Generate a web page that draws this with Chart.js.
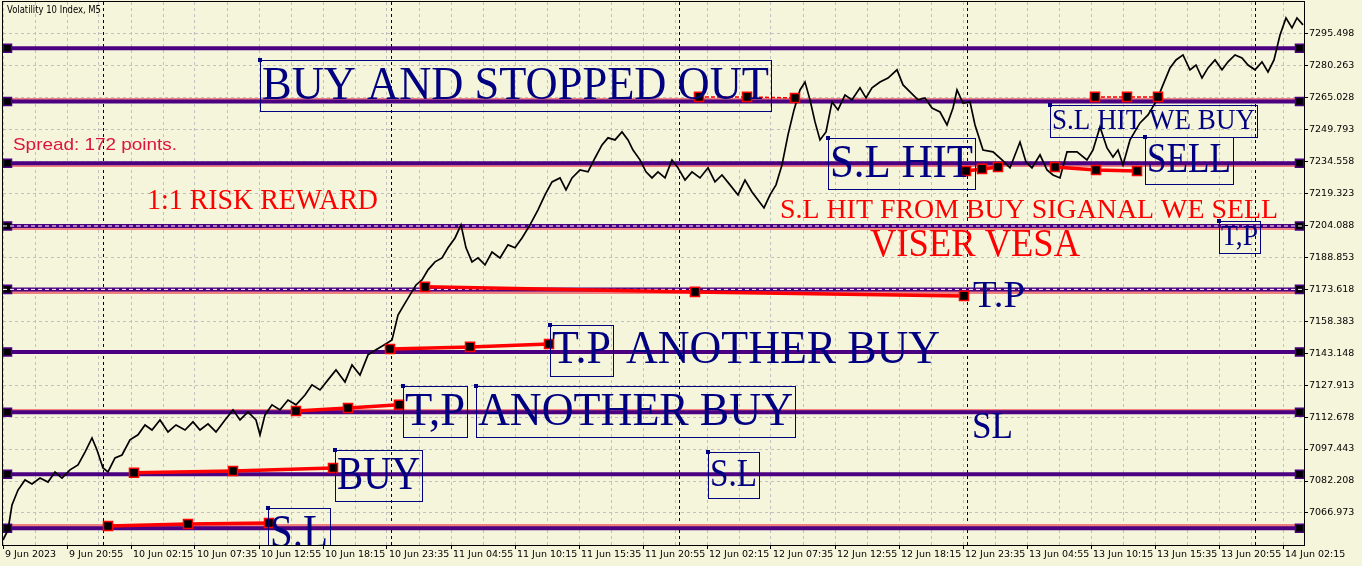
<!DOCTYPE html>
<html>
<head>
<meta charset="utf-8">
<script src="https://cdn.jsdelivr.net/npm/chart.js@4.4.0/dist/chart.umd.min.js"></script>
<style>
  html, body { margin: 0; padding: 0; background: #f5f5dc; }
  #wrap { width: 1362px; height: 566px; }
</style>
</head>
<body>
<div id="wrap"><canvas id="chart" width="1362" height="566"></canvas></div>
<script>
// Volatility 10 Index, M5 -- one x unit is one 5 minute bar
const xLabels = [
  "9 Jun 2023", "9 Jun 20:55", "10 Jun 02:15", "10 Jun 07:35", "10 Jun 12:55",
  "10 Jun 18:15", "10 Jun 23:35", "11 Jun 04:55", "11 Jun 10:15", "11 Jun 15:35",
  "11 Jun 20:55", "12 Jun 02:15", "12 Jun 07:35", "12 Jun 12:55", "12 Jun 18:15",
  "12 Jun 23:35", "13 Jun 04:55", "13 Jun 10:15", "13 Jun 15:35", "13 Jun 20:55",
  "14 Jun 02:15"
];
const yTicks = [
  7066.973, 7082.208, 7097.443, 7112.678, 7127.913, 7143.148, 7158.383, 7173.618,
  7188.853, 7204.088, 7219.323, 7234.558, 7249.793, 7265.028, 7280.263, 7295.498
];
const dayBreaks = [100, 388, 676, 964, 1252];

const priceBars = [
  0, 5, 9, 15, 22, 29, 37, 45, 52, 59, 67, 75, 82, 89, 94, 100, 105, 112, 119, 127,
  135, 142, 149, 157, 165, 173, 182, 190, 197, 205, 213, 222, 230, 237, 245, 253, 257, 262, 269, 277,
  285, 293, 302, 309, 317, 325, 333, 342, 349, 357, 365, 373, 381, 389, 395, 401, 407, 413, 419, 425,
  432, 439, 445, 452, 458, 463, 469, 475, 482, 489, 497, 505, 512, 519, 527, 535, 542, 549, 557, 563,
  569, 577, 585, 592, 599, 605, 612, 619, 625, 630, 637, 643, 649, 655, 662, 669, 675, 682, 689, 697,
  705, 712, 719, 727, 735, 742, 749, 755, 761, 767, 773, 779, 785, 791, 797, 802, 807, 812, 817, 823,
  829, 835, 842, 849, 857, 863, 869, 877, 885, 894, 900, 907, 915, 922, 929, 937, 944, 950, 954, 960,
  967, 972, 980, 990, 999, 1007, 1017, 1023, 1029, 1037, 1044, 1050, 1057, 1064, 1074, 1084, 1090, 1097, 1104, 1110,
  1115, 1120, 1127, 1137, 1145, 1154, 1160, 1167, 1173, 1180, 1187, 1193, 1199, 1205, 1212, 1219, 1225, 1232, 1239, 1245,
  1252, 1259, 1265, 1271, 1277, 1283, 1289, 1294, 1300
];
const priceClose = [
  7054.1, 7058.9, 7070.8, 7077.9, 7082.7, 7080.8, 7083.6, 7081.7, 7086.5, 7083.6, 7087.5, 7089.9, 7096.0, 7102.7, 7097.0, 7088.4, 7086.5, 7093.2, 7094.6, 7101.8,
  7104.2, 7108.9, 7106.5, 7111.3, 7105.6, 7108.9, 7106.5, 7110.4, 7106.5, 7109.4, 7105.6, 7111.3, 7116.1, 7111.3, 7115.1, 7111.3, 7104.2, 7113.7, 7118.5, 7116.1,
  7120.8, 7118.5, 7123.2, 7128.0, 7125.6, 7130.4, 7135.1, 7129.4, 7137.5, 7132.7, 7142.3, 7144.7, 7147.0, 7149.4, 7161.3, 7166.1, 7170.9, 7175.6, 7178.0, 7182.8,
  7186.6, 7188.5, 7193.3, 7198.0, 7204.2, 7193.3, 7186.6, 7188.5, 7185.2, 7191.3, 7188.5, 7194.7, 7193.3, 7198.0, 7204.2, 7211.4, 7218.5, 7224.7, 7226.6, 7220.9,
  7226.6, 7230.4, 7229.5, 7236.1, 7242.3, 7245.7, 7244.7, 7248.5, 7244.7, 7239.9, 7235.2, 7229.5, 7226.6, 7229.5, 7226.6, 7235.2, 7231.4, 7225.6, 7229.5, 7226.6,
  7231.4, 7224.7, 7228.0, 7223.3, 7218.5, 7225.6, 7219.9, 7216.1, 7212.3, 7218.5, 7223.3, 7232.8, 7247.1, 7259.0, 7268.5, 7272.3, 7263.8, 7253.3, 7244.7, 7248.5,
  7262.8, 7259.0, 7266.1, 7263.8, 7269.5, 7264.7, 7269.5, 7272.3, 7274.2, 7278.1, 7270.9, 7267.6, 7263.8, 7264.7, 7259.9, 7258.0, 7251.8, 7259.9, 7268.5, 7262.3,
  7262.8, 7251.8, 7239.9, 7239.0, 7235.2, 7231.4, 7243.7, 7234.2, 7231.4, 7237.6, 7230.4, 7228.0, 7226.6, 7239.0, 7239.0, 7235.2, 7239.9, 7250.9, 7240.9, 7236.6,
  7239.9, 7232.8, 7244.7, 7252.8, 7256.6, 7263.8, 7270.9, 7279.0, 7282.8, 7285.2, 7278.1, 7280.4, 7274.2, 7279.0, 7282.8, 7278.1, 7281.9, 7285.2, 7283.8, 7280.4,
  7278.1, 7281.9, 7277.1, 7282.8, 7294.7, 7302.8, 7298.1, 7302.8, 7299.5
];

// horizontal levels drawn on the chart
const levels = [7288.4, 7263.0, 7233.6, 7203.7, 7173.5, 7143.7, 7115.0, 7085.4, 7059.7];
const levelShadows = [7264.0, 7232.5, 7202.5, 7172.0, 7115.8, 7061.0];
const dottedLevels = [7203.7, 7173.5];

// trade lines: bars and prices of the three points of each
const tradeBars = [
  [105, 185, 266], [131, 230, 330], [293, 345, 396], [387, 467, 546], [422, 692, 961],
  [696, 744, 792], [963, 979, 995], [1052, 1093, 1134], [1092, 1124, 1155]
];
const tradePrices = [
  [7060.8, 7061.7, 7062.2], [7086.1, 7087.0, 7088.4], [7115.6, 7117.0, 7118.5],
  [7145.1, 7146.1, 7147.5], [7174.7, 7172.3, 7170.4], [7265.2, 7265.2, 7264.7],
  [7229.9, 7230.9, 7231.8], [7231.8, 7230.4, 7229.9], [7265.2, 7265.2, 7265.2]
];
const tradeDashed = [false, false, false, false, false, true, false, false, true];

const NAVY = "#000080";
const RED = "#ff0000";
const notes = [
  { text: "BUY AND STOPPED OUT", bar: 259, price: 7282.8, size: 46, width: 507, color: NAVY, box: true },
  { text: "S.L HIT", bar: 827, price: 7245.6, size: 46, width: 143, color: NAVY, box: true },
  { text: "S.L HIT WE BUY", bar: 1049, price: 7261.4, size: 29, width: 203, color: NAVY, box: true },
  { text: "SELL", bar: 1144, price: 7246.1, size: 42, width: 84, color: NAVY, box: true },
  { text: "T,P", bar: 1218, price: 7206.1, size: 29, width: 37, color: NAVY, box: true },
  { text: "T.P", bar: 970, price: 7180.4, size: 38, width: 52, color: NAVY, box: false },
  { text: "T.P", bar: 549, price: 7156.6, size: 46, width: 59, color: NAVY, box: true },
  { text: "ANOTHER BUY", bar: 623, price: 7156.6, size: 46, width: 314, color: NAVY, box: false },
  { text: "T,P", bar: 402, price: 7127.5, size: 46, width: 60, color: NAVY, box: true },
  { text: "ANOTHER BUY", bar: 475, price: 7127.5, size: 46, width: 315, color: NAVY, box: true },
  { text: "BUY", bar: 334, price: 7097.0, size: 46, width: 83, color: NAVY, box: true },
  { text: "S.L", bar: 267, price: 7069.4, size: 46, width: 58, color: NAVY, box: true },
  { text: "S.L", bar: 707, price: 7096.1, size: 41, width: 47, color: NAVY, box: true },
  { text: "SL", bar: 969, price: 7118.0, size: 38, width: 41, color: NAVY, box: false },
  { text: "1:1 RISK REWARD", bar: 144, price: 7223.3, size: 29, width: 231, color: RED, box: false },
  { text: "S.L HIT FROM BUY SIGANAL WE SELL", bar: 777, price: 7218.5, size: 27, width: 498, color: RED, box: false },
  { text: "VISER VESA", bar: 867, price: 7205.6, size: 41, width: 210, color: RED, box: false }
];

const BAR_MAX = 1301;
const Y_MIN = 7051.72;
const Y_MAX = 7310.41;

const gridBars = [];
for (let b = 0; b <= 1280; b += 32) gridBars.push(b);

function fitText(ctx, text, x, y, width) {
  const w0 = ctx.measureText(text).width;
  ctx.save();
  ctx.translate(x, y);
  ctx.scale(width / w0, 1);
  ctx.fillText(text, 0, 0);
  ctx.restore();
}

const datasets = [];

tradeBars.forEach((bars, i) => {
  datasets.push({
    data: bars.map((b, j) => ({ x: b, y: tradePrices[i][j] })),
    borderColor: RED,
    borderWidth: tradeDashed[i] ? 1.5 : 3.5,
    borderDash: tradeDashed[i] ? [4, 2] : [],
    pointStyle: "rect",
    pointRadius: 6.4,
    pointBackgroundColor: "#000",
    pointBorderColor: RED,
    pointBorderWidth: 1.5,
    order: 0,
    clip: 0
  });
});

datasets.push({
  data: priceBars.map((b, i) => ({ x: b, y: priceClose[i] })),
  borderColor: "#000",
  borderWidth: 1.7,
  pointRadius: 0,
  order: 1,
  clip: 0
});

dottedLevels.forEach(v => {
  datasets.push({
    data: [{ x: 0, y: v }, { x: BAR_MAX, y: v }],
    borderColor: "#ffffff",
    borderWidth: 1,
    borderDash: [4, 3],
    pointRadius: 0,
    order: 2,
    clip: 0
  });
});

levels.forEach(v => {
  datasets.push({
    data: [{ x: 0, y: v }, { x: 4.5, y: v }, { x: 1296.5, y: v }, { x: BAR_MAX, y: v }],
    borderColor: "#4b0082",
    borderWidth: 4,
    pointStyle: "rect",
    pointRadius: [0, 5.7, 5.7, 0],
    pointBackgroundColor: "#000",
    pointBorderColor: "#4b0082",
    pointBorderWidth: 1.5,
    order: 3,
    clip: 0
  });
});

levelShadows.forEach(v => {
  datasets.push({
    data: [{ x: 0, y: v }, { x: BAR_MAX, y: v }],
    borderColor: "#f08080",
    borderWidth: 3,
    pointRadius: 0,
    order: 4,
    clip: 0
  });
});

const chartDecor = {
  id: "chartDecor",
  beforeDraw(chart) {
    const ctx = chart.ctx;
    ctx.save();
    ctx.fillStyle = "#f5f5dc";
    ctx.fillRect(0, 0, chart.width, chart.height);
    ctx.restore();
  },
  beforeDatasetsDraw(chart) {
    const { ctx, chartArea, scales } = chart;
    ctx.save();
    ctx.strokeStyle = "#000";
    ctx.lineWidth = 1;
    ctx.setLineDash([3, 3]);
    dayBreaks.forEach(b => {
      const x = Math.round(scales.x.getPixelForValue(b)) + 0.5;
      ctx.beginPath();
      ctx.moveTo(x, chartArea.top);
      ctx.lineTo(x, chartArea.bottom);
      ctx.stroke();
    });
    ctx.restore();
  },
  afterDatasetsDraw(chart) {
    const { ctx, chartArea, scales } = chart;
    ctx.save();
    ctx.beginPath();
    ctx.rect(chartArea.left, chartArea.top, chartArea.right - chartArea.left, chartArea.bottom - chartArea.top);
    ctx.clip();
    notes.forEach(n => {
      const x = scales.x.getPixelForValue(n.bar);
      const top = scales.y.getPixelForValue(n.price);
      ctx.font = n.size + 'px "Liberation Serif"';
      ctx.fillStyle = n.color;
      ctx.textBaseline = "alphabetic";
      fitText(ctx, n.text, x, top + n.size * 0.84, n.width);
      if (n.box) {
        ctx.strokeStyle = NAVY;
        ctx.lineWidth = 1;
        ctx.strokeRect(Math.round(x - 2) + 0.5, Math.round(top) + 0.5, Math.round(n.width + 4), Math.round(n.size * 1.11));
        ctx.fillStyle = NAVY;
        ctx.fillRect(Math.round(x - 4), Math.round(top - 2), 4, 4);
      }
    });

    ctx.fillStyle = "#dc143c";
    ctx.font = '17px "Liberation Sans"';
    fitText(ctx, "Spread: 172 points.", chartArea.left + 10, chartArea.top + 148, 164);

    ctx.fillStyle = "#000";
    ctx.font = '10px "DejaVu Sans"';
    fitText(ctx, "Volatility 10 Index, M5", chartArea.left + 4, chartArea.top + 11, 94);
    ctx.restore();
  },
  afterDraw(chart) {
    const { ctx, chartArea } = chart;
    ctx.save();
    ctx.strokeStyle = "#000";
    ctx.lineWidth = 1;
    ctx.strokeRect(chartArea.left - 0.5, chartArea.top - 0.5,
      chartArea.right - chartArea.left + 1, chartArea.bottom - chartArea.top + 1);
    ctx.restore();
  }
};

new Chart(document.getElementById("chart"), {
  type: "line",
  data: { datasets },
  plugins: [chartDecor],
  options: {
    responsive: false,
    animation: false,
    devicePixelRatio: 1,
    layout: { autoPadding: false, padding: { left: 3, top: 2, right: 0, bottom: 0 } },
    plugins: { legend: { display: false }, tooltip: { enabled: false } },
    elements: { line: { tension: 0 } },
    scales: {
      x: {
        type: "linear",
        position: "bottom",
        min: 0,
        max: BAR_MAX,
        afterBuildTicks: s => { s.ticks = gridBars.map(v => ({ value: v })); },
        afterFit: s => { s.height = 21; s.paddingLeft = 0; s.paddingRight = 0; },
        grid: {
          color: "#c0c0c0",
          lineWidth: 1,
          tickLength: 4,
          tickWidth: 1,
          tickColor: c => (c.index % 2 ? "rgba(0,0,0,0)" : "#000")
        },
        border: { display: false, dash: [3, 3] },
        ticks: {
          autoSkip: false,
          maxRotation: 0,
          align: "start",
          labelOffset: 2,
          padding: 0,
          color: "#000",
          font: { family: "DejaVu Sans", size: 9.5 },
          callback: (v, i) => (i % 2 ? "" : xLabels[i / 2])
        }
      },
      y: {
        type: "linear",
        position: "right",
        min: Y_MIN,
        max: Y_MAX,
        afterBuildTicks: s => { s.ticks = yTicks.map(v => ({ value: v })); },
        afterFit: s => { s.width = 58; s.paddingTop = 0; s.paddingBottom = 0; },
        grid: { color: "#c0c0c0", lineWidth: 1, tickLength: 4, tickWidth: 1, tickColor: "#000" },
        border: { display: false, dash: [3, 3] },
        ticks: {
          padding: 1,
          color: "#000",
          font: { family: "DejaVu Sans", size: 9.5 },
          callback: v => v.toFixed(3)
        }
      }
    }
  }
});
</script>
</body>
</html>
